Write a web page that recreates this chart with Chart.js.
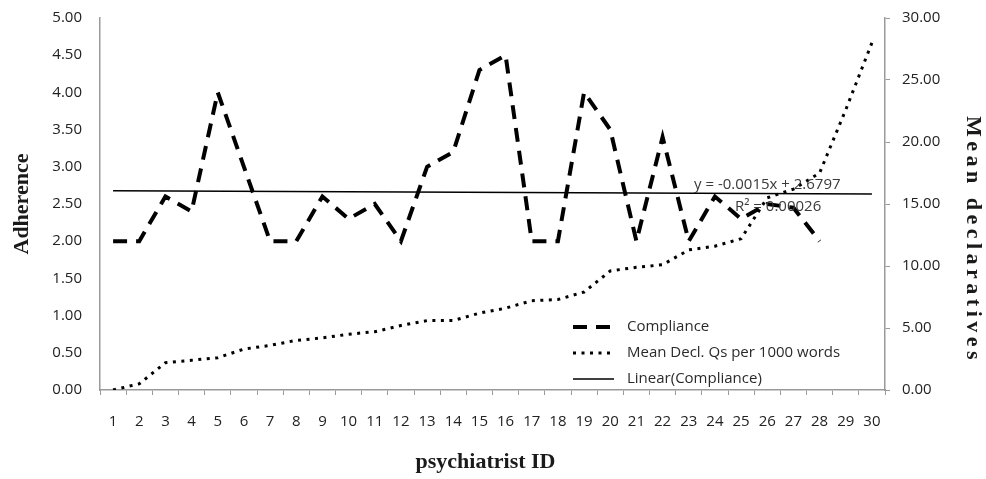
<!DOCTYPE html>
<html>
<head>
<meta charset="utf-8">
<script src="https://cdn.jsdelivr.net/npm/chart.js@4.4.1/dist/chart.umd.min.js"></script>
<style>
  html, body { margin: 0; padding: 0; background: #fff; }
  #wrap { width: 986px; height: 479px; }
</style>
</head>
<body>
<div id="wrap"><canvas id="chart" width="986" height="479"></canvas></div>
<script>
const psychiatristIds = ['1', '2', '3', '4', '5', '6', '7', '8', '9', '10',
  '11', '12', '13', '14', '15', '16', '17', '18', '19', '20',
  '21', '22', '23', '24', '25', '26', '27', '28', '29', '30'];

// adherence score, only 28 psychiatrists rated
const compliance = [2.0, 2.0, 2.6, 2.4, 4.0, 3.0, 2.0, 2.0, 2.6, 2.3,
  2.5, 2.0, 3.0, 3.2, 4.3, 4.5, 2.0, 2.0, 4.0, 3.5,
  2.0, 3.4, 2.0, 2.6, 2.3, 2.5, 2.45, 2.0];

// mean declarative questions per 1000 words (right axis)
const meanDecl = [0.0, 0.5, 2.2, 2.4, 2.6, 3.3, 3.6, 4.0, 4.2, 4.5,
  4.7, 5.2, 5.6, 5.6, 6.2, 6.6, 7.2, 7.3, 7.9, 9.6,
  9.9, 10.1, 11.3, 11.6, 12.2, 15.5, 16.2, 17.5, 22.6, 28.0];

// Excel linear trendline end points (ID 1 and ID 30)
const trendPoints = [{ x: '1', y: 2.6782 }, { x: '30', y: 2.6347 }];
const trendEquation = 'y = -0.0015x + 2.6797';
const trendR2 = 'R² = 0.00026';

const seriesNames = ['Compliance', 'Mean Decl. Qs per 1000 words', 'Linear(Compliance)'];
const xTitle = 'psychiatrist ID';
const leftTitle = 'Adherence';
const rightTitle = 'Mean declaratives';

const tickFont = { family: '"Open Sans"', size: 15 };
const axisGray = '#9a9a9a';

const textPlugin = {
  id: 'textPlugin',
  afterDraw(chart) {
    const ctx = chart.ctx;
    const a = chart.chartArea;
    ctx.save();
    ctx.fillStyle = '#1a1a1a';
    ctx.textAlign = 'center';
    ctx.textBaseline = 'middle';
    ctx.font = 'bold 22px "Liberation Serif"';
    ctx.fillText(xTitle, (a.left + a.right) / 2 - 7, 462);

    ctx.save();
    ctx.translate(22, (a.top + a.bottom) / 2);
    ctx.rotate(-Math.PI / 2);
    ctx.fillText(leftTitle, 0, 0);
    ctx.restore();

    ctx.save();
    ctx.translate(973, 240);
    ctx.rotate(Math.PI / 2);
    ctx.letterSpacing = '4.5px';
    ctx.fillText(rightTitle, 0, 0);
    ctx.restore();

    // legend inside the plot
    ctx.font = '15px "Open Sans"';
    ctx.textAlign = 'left';
    ctx.fillStyle = '#2a2a2a';
    const rows = [327, 353, 379];
    chart.data.datasets.forEach((ds, i) => {
      ctx.save();
      ctx.strokeStyle = ds.borderColor;
      ctx.lineWidth = ds.borderWidth;
      ctx.setLineDash(ds.borderDash || []);
      ctx.beginPath();
      ctx.moveTo(573, rows[i]);
      ctx.lineTo(614, rows[i]);
      ctx.stroke();
      ctx.restore();
      ctx.fillText(ds.label, 627, rows[i]);
    });

    // trendline equation
    ctx.fillStyle = '#3a3a3a';
    ctx.fillText(trendEquation, 694, 185);
    ctx.fillText(trendR2, 735, 207);
    ctx.restore();
  }
};

function fixVertical(width) {
  return function (scale) {
    scale.width = width;
    scale.paddingTop = 0;
    scale.paddingBottom = 0;
  };
}

const ctx = document.getElementById('chart');
const chart = new Chart(ctx, {
  type: 'line',
  data: {
    labels: psychiatristIds,
    datasets: [
      {
        label: seriesNames[0],
        data: compliance,
        yAxisID: 'y',
        borderColor: '#000',
        borderWidth: 4,
        borderDash: [14, 9],
        pointRadius: 0,
        tension: 0
      },
      {
        label: seriesNames[1],
        data: meanDecl,
        yAxisID: 'y2',
        borderColor: '#000',
        borderWidth: 3,
        borderDash: [3, 5.5],
        pointRadius: 0,
        tension: 0
      },
      {
        label: seriesNames[2],
        data: trendPoints,
        yAxisID: 'y',
        borderColor: '#000',
        borderWidth: 1.5,
        pointRadius: 0,
        tension: 0
      }
    ]
  },
  options: {
    responsive: false,
    animation: false,
    layout: { padding: { top: 18, left: 0, right: 0, bottom: 0 } },
    plugins: {
      legend: { display: false },
      tooltip: { enabled: false }
    },
    scales: {
      x: {
        offset: true,
        grid: { display: true, drawOnChartArea: false, tickLength: 5, color: axisGray, offset: true },
        border: { color: axisGray, width: 1.5 },
        ticks: { font: tickFont, color: '#222', padding: 18, maxRotation: 0, autoSkip: false },
        afterFit(scale) { scale.height = 89; scale.paddingLeft = 0; scale.paddingRight = 0; }
      },
      y: {
        position: 'left',
        min: 0,
        max: 5,
        grid: { display: true, drawOnChartArea: false, drawTicks: false, color: axisGray },
        border: { color: axisGray, width: 1.5 },
        ticks: { stepSize: 0.5, font: tickFont, color: '#222', padding: 18,
          callback: v => v.toFixed(2) },
        afterFit: fixVertical(100)
      },
      y2: {
        position: 'right',
        min: 0,
        max: 30,
        grid: { display: true, drawOnChartArea: false, tickLength: 5, color: axisGray },
        border: { color: axisGray, width: 1.5 },
        ticks: { stepSize: 5, font: tickFont, color: '#222', padding: 12,
          callback: v => v.toFixed(2) },
        afterFit: fixVertical(101)
      }
    }
  },
  plugins: [textPlugin]
});
</script>
</body>
</html>
